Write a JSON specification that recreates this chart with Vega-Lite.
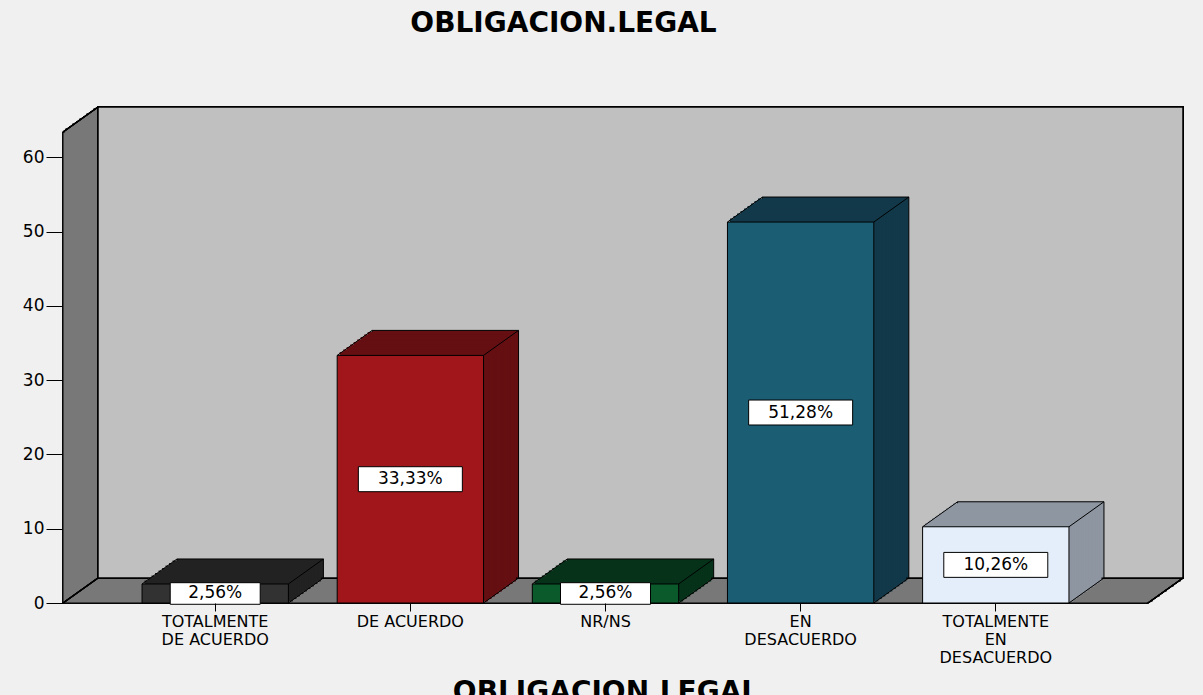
{
  "$schema": "https://vega.github.io/schema/vega-lite/v6.json",
  "width": 1085,
  "height": 471,
  "padding": {"left": 22, "top": 10, "right": 20, "bottom": 0},
  "background": "#f0f0f0",
  "config": {"view": {"stroke": null}},
  "title": {"text": "OBLIGACION.LEGAL", "font": "DejaVu Sans", "fontSize": 28, "fontWeight": "bold", "color": "black", "anchor": "middle", "frame": "group", "offset": 46, "baseline": "alphabetic", "dx": -42},
  "data": {"values": [
    {"cat": "TOTALMENTE DE ACUERDO", "pct": 2.56},
    {"cat": "DE ACUERDO", "pct": 33.33},
    {"cat": "NR/NS", "pct": 2.56},
    {"cat": "EN DESACUERDO", "pct": 51.28},
    {"cat": "TOTALMENTE EN DESACUERDO", "pct": 10.26}
  ]},
  "encoding": {
    "x": {
      "field": "cat", "type": "nominal", "sort": null, "title": "OBLIGACION.LEGAL",
      "scale": {"domain": ["TOTALMENTE DE ACUERDO", "DE ACUERDO", "NR/NS", "EN DESACUERDO", "TOTALMENTE EN DESACUERDO"], "paddingInner": 0.25, "paddingOuter": 0.405},
      "axis": {
        "orient": "bottom",
        "labelExpr": "datum.value == 'TOTALMENTE DE ACUERDO' ? ['TOTALMENTE','DE ACUERDO'] : datum.value == 'DE ACUERDO' ? 'DE ACUERDO' : split(datum.value, ' ')",
        "labelFont": "DejaVu Sans", "labelFontSize": 16, "labelColor": "black", "labelLineHeight": 18,
        "labelAngle": 0, "labelLimit": 300, "tickSize": 8, "tickColor": "black", "labelPadding": 2,
        "domain": false, "titleFont": "DejaVu Sans", "titleFontSize": 28, "titleFontWeight": "bold",
        "titleColor": "black", "titlePadding": 13
      }
    },
    "y": {
      "field": "pct", "type": "quantitative", "title": null,
      "scale": {"domain": [0, 63.4], "nice": false},
      "axis": {"orient": "left", "values": [0, 10, 20, 30, 40, 50, 60], "tickSize": 17, "tickColor": "black", "labelFont": "DejaVu Sans", "labelFontSize": 17, "labelColor": "black", "labelPadding": 2, "domain": false, "grid": false, "title": null}
    }
  },
  "layer": [
    {"mark": {"type": "rect", "fill": "#787878", "stroke": "black", "strokeWidth": 1},
     "encoding": {"x": {"datum": "TOTALMENTE DE ACUERDO", "type": "nominal", "bandPosition": -0.54}, "x2": {"datum": "TOTALMENTE EN DESACUERDO", "bandPosition": 1.54}, "y": {"datum": 0, "type": "quantitative"}, "y2": {"datum": 63.4}}},
    {"mark": {"type": "rect", "fill": "#787878", "stroke": "#787878", "strokeWidth": 2, "xOffset": 3.5, "x2Offset": 3.5, "yOffset": -2.5, "y2Offset": -2.5},
     "encoding": {"x": {"datum": "TOTALMENTE DE ACUERDO", "type": "nominal", "bandPosition": -0.54}, "x2": {"datum": "TOTALMENTE EN DESACUERDO", "bandPosition": 1.54}, "y": {"datum": 0, "type": "quantitative"}, "y2": {"datum": 63.4}}},
    {"mark": {"type": "rect", "fill": "#787878", "stroke": "#787878", "strokeWidth": 2, "xOffset": 7, "x2Offset": 7, "yOffset": -5, "y2Offset": -5},
     "encoding": {"x": {"datum": "TOTALMENTE DE ACUERDO", "type": "nominal", "bandPosition": -0.54}, "x2": {"datum": "TOTALMENTE EN DESACUERDO", "bandPosition": 1.54}, "y": {"datum": 0, "type": "quantitative"}, "y2": {"datum": 63.4}}},
    {"mark": {"type": "rect", "fill": "#787878", "stroke": "#787878", "strokeWidth": 2, "xOffset": 10.5, "x2Offset": 10.5, "yOffset": -7.5, "y2Offset": -7.5},
     "encoding": {"x": {"datum": "TOTALMENTE DE ACUERDO", "type": "nominal", "bandPosition": -0.54}, "x2": {"datum": "TOTALMENTE EN DESACUERDO", "bandPosition": 1.54}, "y": {"datum": 0, "type": "quantitative"}, "y2": {"datum": 63.4}}},
    {"mark": {"type": "rect", "fill": "#787878", "stroke": "#787878", "strokeWidth": 2, "xOffset": 14, "x2Offset": 14, "yOffset": -10, "y2Offset": -10},
     "encoding": {"x": {"datum": "TOTALMENTE DE ACUERDO", "type": "nominal", "bandPosition": -0.54}, "x2": {"datum": "TOTALMENTE EN DESACUERDO", "bandPosition": 1.54}, "y": {"datum": 0, "type": "quantitative"}, "y2": {"datum": 63.4}}},
    {"mark": {"type": "rect", "fill": "#787878", "stroke": "#787878", "strokeWidth": 2, "xOffset": 17.5, "x2Offset": 17.5, "yOffset": -12.5, "y2Offset": -12.5},
     "encoding": {"x": {"datum": "TOTALMENTE DE ACUERDO", "type": "nominal", "bandPosition": -0.54}, "x2": {"datum": "TOTALMENTE EN DESACUERDO", "bandPosition": 1.54}, "y": {"datum": 0, "type": "quantitative"}, "y2": {"datum": 63.4}}},
    {"mark": {"type": "rect", "fill": "#787878", "stroke": "#787878", "strokeWidth": 2, "xOffset": 21, "x2Offset": 21, "yOffset": -15, "y2Offset": -15},
     "encoding": {"x": {"datum": "TOTALMENTE DE ACUERDO", "type": "nominal", "bandPosition": -0.54}, "x2": {"datum": "TOTALMENTE EN DESACUERDO", "bandPosition": 1.54}, "y": {"datum": 0, "type": "quantitative"}, "y2": {"datum": 63.4}}},
    {"mark": {"type": "rect", "fill": "#787878", "stroke": "#787878", "strokeWidth": 2, "xOffset": 24.5, "x2Offset": 24.5, "yOffset": -17.5, "y2Offset": -17.5},
     "encoding": {"x": {"datum": "TOTALMENTE DE ACUERDO", "type": "nominal", "bandPosition": -0.54}, "x2": {"datum": "TOTALMENTE EN DESACUERDO", "bandPosition": 1.54}, "y": {"datum": 0, "type": "quantitative"}, "y2": {"datum": 63.4}}},
    {"mark": {"type": "rect", "fill": "#787878", "stroke": "#787878", "strokeWidth": 2, "xOffset": 28, "x2Offset": 28, "yOffset": -20, "y2Offset": -20},
     "encoding": {"x": {"datum": "TOTALMENTE DE ACUERDO", "type": "nominal", "bandPosition": -0.54}, "x2": {"datum": "TOTALMENTE EN DESACUERDO", "bandPosition": 1.54}, "y": {"datum": 0, "type": "quantitative"}, "y2": {"datum": 63.4}}},
    {"mark": {"type": "rect", "fill": "#787878", "stroke": "#787878", "strokeWidth": 2, "xOffset": 31.5, "x2Offset": 31.5, "yOffset": -22.5, "y2Offset": -22.5},
     "encoding": {"x": {"datum": "TOTALMENTE DE ACUERDO", "type": "nominal", "bandPosition": -0.54}, "x2": {"datum": "TOTALMENTE EN DESACUERDO", "bandPosition": 1.54}, "y": {"datum": 0, "type": "quantitative"}, "y2": {"datum": 63.4}}},
    {"mark": {"type": "rect", "fill": "#c0c0c0", "stroke": "black", "strokeWidth": 1.5, "xOffset": 35, "x2Offset": 35, "yOffset": -25, "y2Offset": -25},
     "encoding": {"x": {"datum": "TOTALMENTE DE ACUERDO", "type": "nominal", "bandPosition": -0.54}, "x2": {"datum": "TOTALMENTE EN DESACUERDO", "bandPosition": 1.54}, "y": {"datum": 0, "type": "quantitative"}, "y2": {"datum": 63.4}}},
    {"mark": {"type": "rule", "color": "black", "strokeWidth": 1.2, "x2Offset": 35, "y2Offset": -25},
     "encoding": {"x": {"datum": "TOTALMENTE DE ACUERDO", "type": "nominal", "bandPosition": -0.54}, "x2": {"datum": "TOTALMENTE DE ACUERDO", "bandPosition": -0.54}, "y": {"datum": 0, "type": "quantitative"}, "y2": {"datum": 0}}},
    {"mark": {"type": "rule", "color": "black", "strokeWidth": 1.2, "x2Offset": 35, "y2Offset": -25},
     "encoding": {"x": {"datum": "TOTALMENTE DE ACUERDO", "type": "nominal", "bandPosition": -0.54}, "x2": {"datum": "TOTALMENTE DE ACUERDO", "bandPosition": -0.54}, "y": {"datum": 63.4, "type": "quantitative"}, "y2": {"datum": 63.4}}},
    {"mark": {"type": "rule", "color": "black", "strokeWidth": 1.2, "x2Offset": 35, "y2Offset": -25},
     "encoding": {"x": {"datum": "TOTALMENTE EN DESACUERDO", "type": "nominal", "bandPosition": 1.54}, "x2": {"datum": "TOTALMENTE EN DESACUERDO", "bandPosition": 1.54}, "y": {"datum": 0, "type": "quantitative"}, "y2": {"datum": 0}}},
    {"mark": {"type": "bar", "stroke": "black", "strokeWidth": 1, "xOffset": 35, "x2Offset": 35, "yOffset": -25, "y2Offset": -25},
     "encoding": {"fill": {"field": "cat", "type": "nominal", "legend": null, "scale": {"domain": ["TOTALMENTE DE ACUERDO", "DE ACUERDO", "NR/NS", "EN DESACUERDO", "TOTALMENTE EN DESACUERDO"], "range": ["#222222", "#650f12", "#06321a", "#12394a", "#8e96a1"]}}}},
    {"mark": {"type": "bar", "strokeWidth": 2, "xOffset": 31.5, "x2Offset": 31.5, "yOffset": -22.5, "y2Offset": -22.5},
     "encoding": {"fill": {"field": "cat", "type": "nominal", "legend": null}, "stroke": {"field": "cat", "type": "nominal", "legend": null, "scale": {"domain": ["TOTALMENTE DE ACUERDO", "DE ACUERDO", "NR/NS", "EN DESACUERDO", "TOTALMENTE EN DESACUERDO"], "range": ["#222222", "#650f12", "#06321a", "#12394a", "#8e96a1"]}}}},
    {"mark": {"type": "bar", "strokeWidth": 2, "xOffset": 28, "x2Offset": 28, "yOffset": -20, "y2Offset": -20},
     "encoding": {"fill": {"field": "cat", "type": "nominal", "legend": null}, "stroke": {"field": "cat", "type": "nominal", "legend": null}}},
    {"mark": {"type": "bar", "strokeWidth": 2, "xOffset": 24.5, "x2Offset": 24.5, "yOffset": -17.5, "y2Offset": -17.5},
     "encoding": {"fill": {"field": "cat", "type": "nominal", "legend": null}, "stroke": {"field": "cat", "type": "nominal", "legend": null}}},
    {"mark": {"type": "bar", "strokeWidth": 2, "xOffset": 21, "x2Offset": 21, "yOffset": -15, "y2Offset": -15},
     "encoding": {"fill": {"field": "cat", "type": "nominal", "legend": null}, "stroke": {"field": "cat", "type": "nominal", "legend": null}}},
    {"mark": {"type": "bar", "strokeWidth": 2, "xOffset": 17.5, "x2Offset": 17.5, "yOffset": -12.5, "y2Offset": -12.5},
     "encoding": {"fill": {"field": "cat", "type": "nominal", "legend": null}, "stroke": {"field": "cat", "type": "nominal", "legend": null}}},
    {"mark": {"type": "bar", "strokeWidth": 2, "xOffset": 14, "x2Offset": 14, "yOffset": -10, "y2Offset": -10},
     "encoding": {"fill": {"field": "cat", "type": "nominal", "legend": null}, "stroke": {"field": "cat", "type": "nominal", "legend": null}}},
    {"mark": {"type": "bar", "strokeWidth": 2, "xOffset": 10.5, "x2Offset": 10.5, "yOffset": -7.5, "y2Offset": -7.5},
     "encoding": {"fill": {"field": "cat", "type": "nominal", "legend": null}, "stroke": {"field": "cat", "type": "nominal", "legend": null}}},
    {"mark": {"type": "bar", "strokeWidth": 2, "xOffset": 7, "x2Offset": 7, "yOffset": -5, "y2Offset": -5},
     "encoding": {"fill": {"field": "cat", "type": "nominal", "legend": null}, "stroke": {"field": "cat", "type": "nominal", "legend": null}}},
    {"mark": {"type": "bar", "strokeWidth": 2, "xOffset": 3.5, "x2Offset": 3.5, "yOffset": -2.5, "y2Offset": -2.5},
     "encoding": {"fill": {"field": "cat", "type": "nominal", "legend": null}, "stroke": {"field": "cat", "type": "nominal", "legend": null}}},
    {"mark": {"type": "bar", "stroke": "black", "strokeWidth": 1, "opacity": 1},
     "encoding": {"color": {"field": "cat", "type": "nominal", "legend": null, "scale": {"domain": ["TOTALMENTE DE ACUERDO", "DE ACUERDO", "NR/NS", "EN DESACUERDO", "TOTALMENTE EN DESACUERDO"], "range": ["#323232", "#a0161a", "#0b5a2b", "#1b5d73", "#e3eefa"]}}}},
    {"mark": {"type": "rule", "color": "black", "strokeWidth": 1, "x2Offset": 35, "y2Offset": -25},
     "encoding": {"x": {"field": "cat", "type": "nominal", "sort": null, "bandPosition": 0}, "x2": {"field": "cat", "bandPosition": 0}, "y2": {"field": "pct"}}},
    {"mark": {"type": "rule", "color": "black", "strokeWidth": 1, "x2Offset": 35, "y2Offset": -25},
     "encoding": {"x": {"field": "cat", "type": "nominal", "sort": null, "bandPosition": 1}, "x2": {"field": "cat", "bandPosition": 1}, "y2": {"field": "pct"}}},
    {"mark": {"type": "rule", "color": "black", "strokeWidth": 1, "x2Offset": 35, "y2Offset": -25},
     "encoding": {"x": {"field": "cat", "type": "nominal", "sort": null, "bandPosition": 1}, "x2": {"field": "cat", "bandPosition": 1}, "y": {"datum": 0, "type": "quantitative"}, "y2": {"datum": 0}}},
    {"mark": {"type": "point", "shape": "M-1,-0.24L1,-0.24L1,0.24L-1,0.24Z", "filled": true, "fill": "white", "stroke": "black", "strokeWidth": 1, "opacity": 1, "yOffset": {"expr": "(scale('y', 0) - scale('y', datum.pct)) / 2"}},
     "encoding": {"size": {"condition": {"test": "datum.pct < 5", "value": 8100}, "value": 10816}}},
    {"mark": {"type": "text", "font": "DejaVu Sans", "fontSize": 17, "color": "black", "align": "center", "baseline": "middle", "yOffset": {"expr": "(scale('y', 0) - scale('y', datum.pct)) / 2"}, "text": {"expr": "replace(format(datum.pct, '.2f'), '.', ',') + '%'"}}}
  ]
}
